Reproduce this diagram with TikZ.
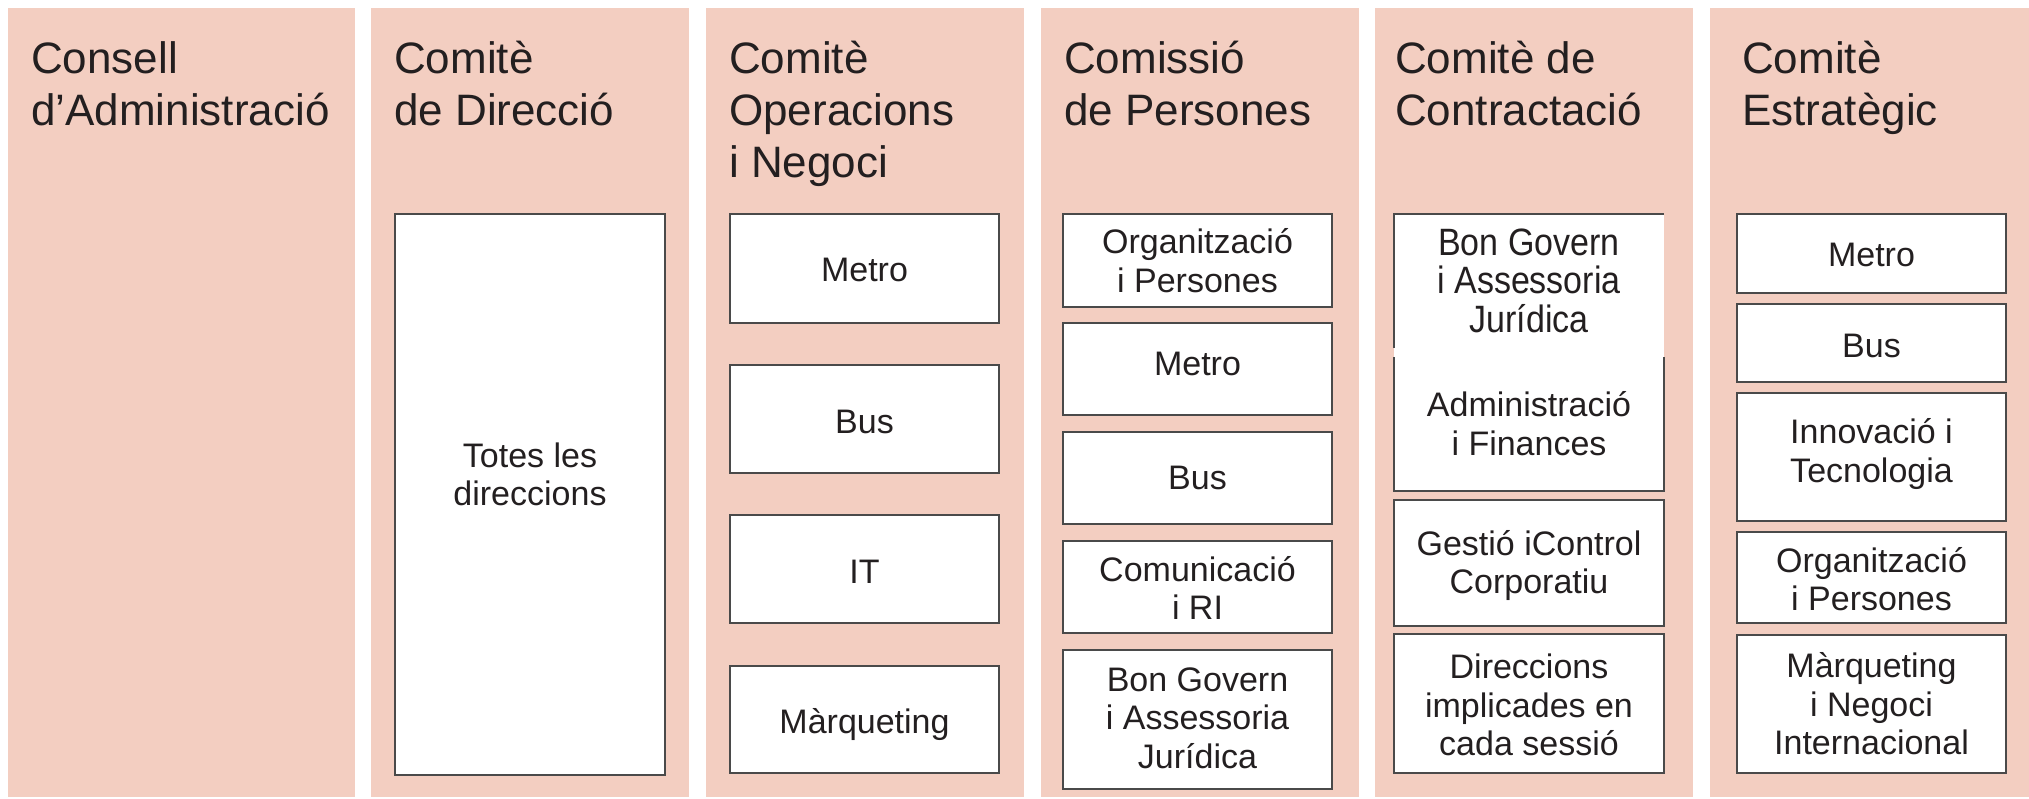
\documentclass[tikz,border=0pt]{standalone}
\usepackage{graphicx}
\usepackage{fontspec}
\setmainfont{Liberation Sans}
\usetikzlibrary{fit}
\definecolor{panelpink}{HTML}{F3CEC1}
\definecolor{ink}{HTML}{231F20}
\definecolor{edgegray}{HTML}{4A4A4A}
\newcommand\tstack[1]{\begin{tabular}[t]{@{}l@{}}#1\end{tabular}}
\newcommand\cstack[1]{\begin{tabular}{@{}c@{}}#1\end{tabular}}
\newcommand\tallline[1]{\smash{\scalebox{1}[1.12]{#1}}}
\tikzset{
  panelbox/.style={fill=panelpink, draw=none, inner sep=0pt, outer sep=0pt},
  unitbox/.style={fill=white, draw=edgegray, line width=1.1pt, inner sep=0pt, outer sep=0pt},
  openbox/.style={fill=white, draw=none, inner sep=0pt, outer sep=0pt},
  edgeline/.style={draw=edgegray, line width=1.1pt},
  titletext/.style={anchor=base west, inner sep=0pt, text=ink, font=\fontsize{44}{52}\selectfont},
  boxtext/.style={anchor=center, inner sep=0pt, text=ink, font=\fontsize{34}{38.5}\selectfont},
}
\begin{document}
\begin{tikzpicture}[x=1pt,y=-1pt]
\useasboundingbox (0,0) rectangle (2029,798);
\fill[white] (0,0) rectangle (2029,798);

% panels
\node[panelbox, fit={(8,8)(355,797)}] (pan1) {};
\node[panelbox, fit={(371,8)(689,797)}] (pan2) {};
\node[panelbox, fit={(706,8)(1024,797)}] (pan3) {};
\node[panelbox, fit={(1041,8)(1359,797)}] (pan4) {};
\node[panelbox, fit={(1375,8)(1693,797)}] (pan5) {};
\node[panelbox, fit={(1710,8)(2029,797)}] (pan6) {};

% titles
\node[titletext] (ttl1) at (31,73) {\tstack{Consell\\d’Administració}};
\node[titletext] (ttl2) at (394,73) {\tstack{Comitè\\de Direcció}};
\node[titletext] (ttl3) at (729,73) {\tstack{Comitè\\Operacions\\i Negoci}};
\node[titletext] (ttl4) at (1064,73) {\tstack{Comissió\\de Persones}};
\node[titletext] (ttl5) at (1395,73) {\tstack{Comitè de\\Contractació}};
\node[titletext] (ttl6) at (1742,73) {\tstack{Comitè\\Estratègic}};

% panel 2
\node[unitbox, fit={(395,214)(665,775)}] (b2a) {};
\node[boxtext, yshift=15.5pt] (b2a-t) at (b2a.center) {\cstack{Totes les\\direccions}};

% panel 3
\node[unitbox, fit={(730,214)(999,323)}] (b3a) {};
\node[unitbox, fit={(730,365)(999,473)}] (b3b) {};
\node[unitbox, fit={(730,515)(999,623)}] (b3c) {};
\node[unitbox, fit={(730,666)(999,773)}] (b3d) {};
\node[boxtext, yshift=-5.5pt] (b3a-t) at (b3a.center) {\cstack{Metro}};
\node[boxtext, yshift=-6.5pt] (b3b-t) at (b3b.center) {\cstack{Bus}};
\node[boxtext, yshift=-7pt] (b3c-t) at (b3c.center) {\cstack{IT}};
\node[boxtext, yshift=-6pt] (b3d-t) at (b3d.center) {\cstack{Màrqueting}};

% panel 4
\node[unitbox, fit={(1063,214)(1332,307)}] (b4a) {};
\node[unitbox, fit={(1063,323)(1332,415)}] (b4b) {};
\node[unitbox, fit={(1063,432)(1332,524)}] (b4c) {};
\node[unitbox, fit={(1063,541)(1332,633)}] (b4d) {};
\node[unitbox, fit={(1063,650)(1332,789)}] (b4e) {};
\node[boxtext, yshift=-5pt] (b4a-t) at (b4a.center) {\cstack{Organització\\i Persones}};
\node[boxtext, yshift=1.5pt] (b4b-t) at (b4b.center) {\cstack{Metro}};
\node[boxtext, yshift=-4pt] (b4c-t) at (b4c.center) {\cstack{Bus}};
\node[boxtext, yshift=-6pt] (b4d-t) at (b4d.center) {\cstack{Comunicació\\i RI}};
\node[boxtext, yshift=-2.5pt] (b4e-t) at (b4e.center) {\cstack{Bon Govern\\i Assessoria\\Jurídica}};

% panel 5
\node[openbox, fit={(1394,214)(1664,352)}] (b5a) {};
\node[openbox, fit={(1394,352)(1664,491)}] (b5b) {};
\draw[edgeline] ([yshift=4pt]b5a.south west) -- (b5a.north west) -- (b5a.north east);
\draw[edgeline] ([yshift=-5pt]b5b.north west) -- (b5b.south west) -- (b5b.south east) -- ([yshift=-5pt]b5b.north east);
\node[unitbox, fit={(1394,500)(1664,626)}] (b5c) {};
\node[unitbox, fit={(1394,634)(1664,773)}] (b5d) {};
\node[boxtext, yshift=-3pt] (b5a-t) at (b5a.center) {\cstack{\tallline{Bon Govern}\\\tallline{i Assessoria}\\\tallline{Jurídica}}};
\node[boxtext, yshift=-7pt] (b5b-t) at (b5b.center) {\cstack{Administració\\i Finances}};
\node[boxtext, yshift=-4pt] (b5c-t) at (b5c.center) {\cstack{Gestió iControl\\Corporatiu}};
\node[boxtext, yshift=-6pt] (b5d-t) at (b5d.center) {\cstack{Direccions\\implicades en\\cada sessió}};

% panel 6
\node[unitbox, fit={(1737,214)(2006,293)}] (b6a) {};
\node[unitbox, fit={(1737,304)(2006,382)}] (b6b) {};
\node[unitbox, fit={(1737,393)(2006,521)}] (b6c) {};
\node[unitbox, fit={(1737,532)(2006,623)}] (b6d) {};
\node[unitbox, fit={(1737,635)(2006,773)}] (b6e) {};
\node[boxtext, yshift=-5.5pt] (b6a-t) at (b6a.center) {\cstack{Metro}};
\node[boxtext, yshift=-6.5pt] (b6b-t) at (b6b.center) {\cstack{Bus}};
\node[boxtext, yshift=1.5pt] (b6c-t) at (b6c.center) {\cstack{Innovació i\\Tecnologia}};
\node[boxtext, yshift=-6.5pt] (b6d-t) at (b6d.center) {\cstack{Organització\\i Persones}};
\node[boxtext, yshift=-4.5pt] (b6e-t) at (b6e.center) {\cstack{Màrqueting\\i Negoci\\Internacional}};
\end{tikzpicture}
\end{document}
